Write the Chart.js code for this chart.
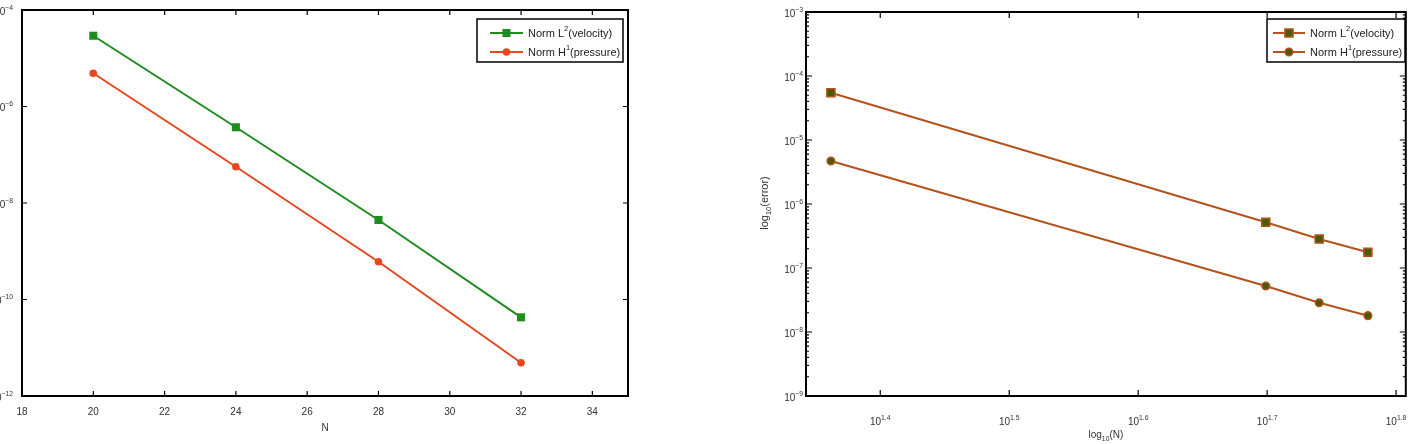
<!DOCTYPE html>
<html><head><meta charset="utf-8">
<script src="https://cdn.jsdelivr.net/npm/chart.js@4/dist/chart.umd.min.js"></script>
<style>html,body{margin:0;padding:0;background:#fff;overflow:hidden;width:1413px;height:444px}
canvas{position:absolute;left:0;top:0}</style></head>
<body>
<canvas id="c1" width="1413" height="444"></canvas>
<canvas id="c2" width="1413" height="444"></canvas>
<script>
// ---------- data ----------
const leftN = [20, 24, 28, 32];
const leftVelocityL2 = [2.93e-5, 3.71e-7, 4.45e-9, 4.27e-11];
const leftPressureH1 = [4.88e-6, 5.65e-8, 6.07e-10, 4.90e-12];
const leftXTicks = [18, 20, 22, 24, 26, 28, 30, 32, 34];
const leftYTickExps = [-12, -10, -8, -6, -4];

const rightN = [23, 50, 55, 60];
const rightVelocityL2 = [5.48e-5, 5.18e-7, 2.84e-7, 1.76e-7];
const rightPressureH1 = [4.70e-6, 5.23e-8, 2.87e-8, 1.80e-8];
const rightXTickExps = ['1.4', '1.5', '1.6', '1.7', '1.8'];
const rightYTickExps = [-9, -8, -7, -6, -5, -4, -3];

const legendVelocity = ['Norm L', '2', '(velocity)'];
const legendPressure = ['Norm H', '1', '(pressure)'];

// ---------- helpers ----------
const FONT = '"Liberation Sans", Arial, sans-serif';
function richText(ctx, parts, x, y, align, size, color) {
  const f = k => (k === 'n' ? size : size * 0.68) + 'px ' + FONT;
  let w = 0;
  parts.forEach(([t, k]) => { ctx.font = f(k); w += ctx.measureText(t).width; });
  let cx = align === 'center' ? x - w / 2 : align === 'right' ? x - w : x;
  ctx.fillStyle = color || '#333';
  ctx.textBaseline = 'middle';
  ctx.textAlign = 'left';
  parts.forEach(([t, k]) => {
    ctx.font = f(k);
    const dy = k === 'sup' ? -size * 0.42 : k === 'sub' ? size * 0.38 : 0;
    ctx.fillText(t, cx, y + dy);
    cx += ctx.measureText(t).width;
  });
}
const minus = s => String(s).replace('-', '\u2212');

function drawMarker(ctx, style, x, y, r, fill, stroke, bw) {
  ctx.save();
  ctx.fillStyle = fill; ctx.strokeStyle = stroke; ctx.lineWidth = bw;
  ctx.beginPath();
  if (style === 'rect') { const s = r * Math.SQRT1_2; ctx.rect(x - s, y - s, 2 * s, 2 * s); }
  else ctx.arc(x, y, r, 0, Math.PI * 2);
  ctx.fill(); if (bw > 0) ctx.stroke();
  ctx.restore();
}

function drawLegend(ctx, chart, box, rowsY, lineX, textX) {
  ctx.save();
  ctx.fillStyle = '#fff';
  ctx.fillRect(box[0], box[1], box[2] - box[0], box[3] - box[1]);
  ctx.strokeStyle = '#000'; ctx.lineWidth = 1.5;
  ctx.strokeRect(box[0], box[1], box[2] - box[0], box[3] - box[1]);
  const labels = [legendVelocity, legendPressure];
  chart.data.datasets.forEach((ds, i) => {
    const y = rowsY[i];
    ctx.strokeStyle = ds.borderColor; ctx.lineWidth = ds.borderWidth;
    ctx.beginPath(); ctx.moveTo(lineX[0], y); ctx.lineTo(lineX[1], y); ctx.stroke();
    drawMarker(ctx, ds.pointStyle, (lineX[0] + lineX[1]) / 2, y, ds.pointRadius,
      ds.pointBackgroundColor, ds.pointBorderColor, ds.pointBorderWidth);
    const l = labels[i];
    richText(ctx, [[l[0], 'n'], [l[1], 'sup'], [l[2], 'n']], textX, y + 1, 'left', 11, '#222');
  });
  ctx.restore();
}

function frame(ctx, a) {
  ctx.save(); ctx.strokeStyle = '#000'; ctx.lineWidth = 2;
  ctx.strokeRect(a.left, a.top, a.right - a.left, a.bottom - a.top);
  ctx.restore();
}
function tickX(ctx, a, px, len) {
  ctx.beginPath(); ctx.moveTo(px, a.bottom); ctx.lineTo(px, a.bottom - len);
  ctx.moveTo(px, a.top); ctx.lineTo(px, a.top + len); ctx.stroke();
}
function tickY(ctx, a, py, len) {
  ctx.beginPath(); ctx.moveTo(a.left, py); ctx.lineTo(a.left + len, py);
  ctx.moveTo(a.right, py); ctx.lineTo(a.right - len, py); ctx.stroke();
}

// ---------- left chart ----------
const leftDecor = {
  id: 'leftDecor',
  afterDatasetsDraw(chart) {
    const ctx = chart.ctx, a = chart.chartArea, xs = chart.scales.x, ys = chart.scales.y;
    ctx.save();
    ctx.strokeStyle = '#000'; ctx.lineWidth = 1.2;
    leftXTicks.forEach(v => {
      const px = xs.getPixelForValue(v);
      tickX(ctx, a, px, 5);
      richText(ctx, [[String(v), 'n']], px, 412, 'center', 10);
    });
    leftYTickExps.forEach(e => {
      const py = ys.getPixelForValue(Math.pow(10, e));
      tickY(ctx, a, py, 5);
      richText(ctx, [['10', 'n'], [minus(e), 'sup']], 13, py + 2, 'right', 10);
    });
    richText(ctx, [['N', 'n']], (a.left + a.right) / 2, 428, 'center', 10);
    frame(ctx, a);
    drawLegend(ctx, chart, [477, 19, 623, 62], [33, 52], [490, 523], 528);
    ctx.restore();
  }
};

new Chart(document.getElementById('c1'), {
  type: 'line',
  data: {
    datasets: [
      { label: 'Norm L²(velocity)', data: leftN.map((n, i) => ({ x: n, y: leftVelocityL2[i] })),
        borderColor: '#1e8c1e', backgroundColor: '#1e8c1e', pointBackgroundColor: '#1e8c1e',
        pointBorderColor: '#1e8c1e', pointBorderWidth: 0, pointStyle: 'rect', pointRadius: 5.7, borderWidth: 2 },
      { label: 'Norm H¹(pressure)', data: leftN.map((n, i) => ({ x: n, y: leftPressureH1[i] })),
        borderColor: '#e8461e', backgroundColor: '#e8461e', pointBackgroundColor: '#e8461e',
        pointBorderColor: '#e8461e', pointBorderWidth: 0, pointStyle: 'circle', pointRadius: 3.8, borderWidth: 2 }
    ]
  },
  options: {
    responsive: false, animation: false, events: [],
    layout: { padding: { left: 22, right: 1413 - 628, top: 10, bottom: 444 - 396 } },
    plugins: { legend: { display: false }, tooltip: { enabled: false } },
    scales: {
      x: { type: 'linear', min: 18, max: 35, display: false },
      y: { type: 'logarithmic', min: 1e-12, max: 1e-4, display: false }
    }
  },
  plugins: [leftDecor]
});

// ---------- right chart ----------
const rightDecor = {
  id: 'rightDecor',
  afterDatasetsDraw(chart) {
    const ctx = chart.ctx, a = chart.chartArea, xs = chart.scales.x, ys = chart.scales.y;
    ctx.save();
    ctx.strokeStyle = '#000'; ctx.lineWidth = 1.2;
    rightXTickExps.forEach(e => {
      const px = xs.getPixelForValue(Math.pow(10, parseFloat(e)));
      tickX(ctx, a, px, 6);
      richText(ctx, [['10', 'n'], [e, 'sup']], px, 422, 'center', 10);
    });
    rightYTickExps.forEach((e, i) => {
      const py = ys.getPixelForValue(Math.pow(10, e));
      tickY(ctx, a, py, 6);
      richText(ctx, [['10', 'n'], [minus(e), 'sup']], a.left - 3, py + 2, 'right', 10);
      if (i < rightYTickExps.length - 1) {
        for (let m = 2; m <= 9; m++) tickY(ctx, a, ys.getPixelForValue(m * Math.pow(10, e)), 3);
      }
    });
    richText(ctx, [['log', 'n'], ['10', 'sub'], ['(N)', 'n']], (a.left + a.right) / 2, 435, 'center', 10);
    ctx.save();
    ctx.translate(765, 203);
    ctx.rotate(-Math.PI / 2);
    richText(ctx, [['log', 'n'], ['10', 'sub'], ['(error)', 'n']], 0, 0, 'center', 11);
    ctx.restore();
    frame(ctx, a);
    drawLegend(ctx, chart, [1267, 19, 1405, 62], [33, 52], [1273, 1305], 1310);
    ctx.restore();
  }
};

new Chart(document.getElementById('c2'), {
  type: 'line',
  data: {
    datasets: [
      { label: 'Norm L²(velocity)', data: rightN.map((n, i) => ({ x: n, y: rightVelocityL2[i] })),
        borderColor: '#b4531c', backgroundColor: '#b4531c', pointBackgroundColor: '#4b5a06',
        pointBorderColor: '#b4531c', pointBorderWidth: 1.5, pointStyle: 'rect', pointRadius: 5.7, borderWidth: 2 },
      { label: 'Norm H¹(pressure)', data: rightN.map((n, i) => ({ x: n, y: rightPressureH1[i] })),
        borderColor: '#b4531c', backgroundColor: '#b4531c', pointBackgroundColor: '#4b5a06',
        pointBorderColor: '#b4531c', pointBorderWidth: 1.5, pointStyle: 'circle', pointRadius: 3.8, borderWidth: 2 }
    ]
  },
  options: {
    responsive: false, animation: false, events: [],
    layout: { padding: { left: 806, right: 1413 - 1408, top: 12, bottom: 444 - 396 } },
    plugins: { legend: { display: false }, tooltip: { enabled: false } },
    scales: {
      x: { type: 'logarithmic', min: 22, max: 64.2, display: false },
      y: { type: 'logarithmic', min: 1e-9, max: 1e-3, display: false }
    }
  },
  plugins: [rightDecor]
});
</script>
</body></html>
